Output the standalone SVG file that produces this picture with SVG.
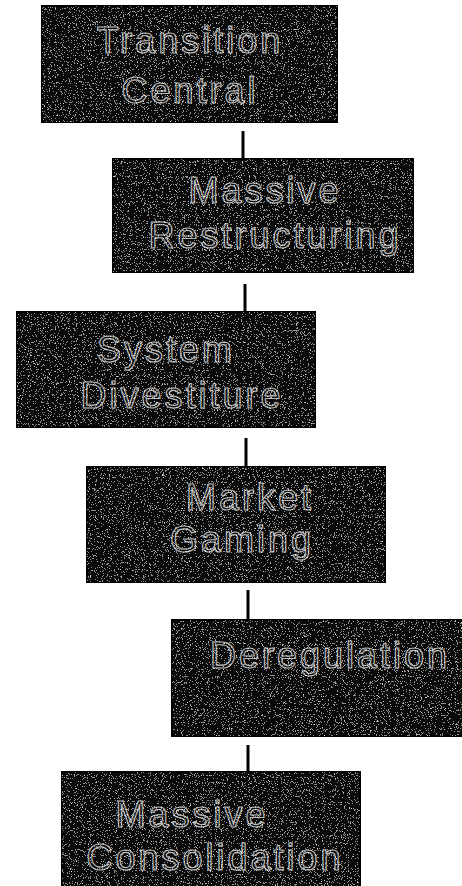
<svg xmlns="http://www.w3.org/2000/svg" width="462" height="886" viewBox="0 0 462 886">
  <style>
    .box { fill: #0a0a0a; stroke: #000; stroke-width: 2; }
    .speck { fill: #000; filter: url(#grain); }
    .lbl { font-family: "Liberation Sans", Arial, sans-serif; font-size: 36px; letter-spacing: 3px; fill: #0a0a0a; stroke: #b8b8b8; stroke-width: 1.2; }
    .mid { text-anchor: middle; }
    .link { stroke: #000; stroke-width: 3; fill: none; }
  </style>
  <defs>
    <!-- sparse white speckles, clipped to the shape they are applied to -->
    <filter id="grain" x="0" y="0" width="1" height="1">
      <feTurbulence type="fractalNoise" baseFrequency="0.85" numOctaves="2" seed="7" result="n"/>
      <feColorMatrix in="n" type="matrix" values="0 0 0 0 1  0 0 0 0 1  0 0 0 0 1  1 0 0 0 0" result="w"/>
      <feComponentTransfer in="w" result="dots">
        <feFuncA type="discrete" tableValues="0 0 0 0 0 0.55 0.8 0.9"/>
      </feComponentTransfer>
      <feComposite in="dots" in2="SourceGraphic" operator="in"/>
    </filter>
  </defs>

  <g id="connectors">
    <line class="link" x1="243" y1="131" x2="243" y2="159"/>
    <line class="link" x1="245" y1="284" x2="245" y2="312"/>
    <line class="link" x1="246" y1="438" x2="246" y2="467"/>
    <line class="link" x1="248" y1="590" x2="248" y2="620"/>
    <line class="link" x1="248" y1="745" x2="248" y2="772"/>
  </g>

  <g id="transition-central">
    <rect class="box" x="42" y="6" width="295" height="116"/>
    <text class="lbl mid" x="190" y="53">Transition</text>
    <text class="lbl mid" x="190" y="103">Central</text>
    <rect class="speck" x="42" y="6" width="295" height="116"/>
  </g>

  <g id="massive-restructuring">
    <rect class="box" x="113" y="159" width="300" height="113"/>
    <text class="lbl mid" x="265" y="203">Massive</text>
    <text class="lbl mid" x="275" y="248">Restructuring</text>
    <rect class="speck" x="113" y="159" width="300" height="113"/>
  </g>

  <g id="system-divestiture">
    <rect class="box" x="17" y="312" width="298" height="115"/>
    <text class="lbl mid" x="166" y="362">System</text>
    <text class="lbl mid" x="182" y="408">Divestiture</text>
    <rect class="speck" x="17" y="312" width="298" height="115"/>
  </g>

  <g id="market-gaming">
    <rect class="box" x="87" y="467" width="298" height="115"/>
    <text class="lbl mid" x="250" y="510">Market</text>
    <text class="lbl mid" x="242" y="552">Gaming</text>
    <rect class="speck" x="87" y="467" width="298" height="115"/>
  </g>

  <g id="deregulation">
    <rect class="box" x="172" y="620" width="300" height="116"/>
    <text class="lbl" x="210" y="668">Deregulation</text>
    <rect class="speck" x="172" y="620" width="300" height="116"/>
  </g>

  <g id="massive-consolidation">
    <rect class="box" x="62" y="772" width="298" height="120"/>
    <text class="lbl mid" x="192" y="827">Massive</text>
    <text class="lbl mid" x="215" y="870">Consolidation</text>
    <rect class="speck" x="62" y="772" width="298" height="120"/>
  </g>
</svg>
